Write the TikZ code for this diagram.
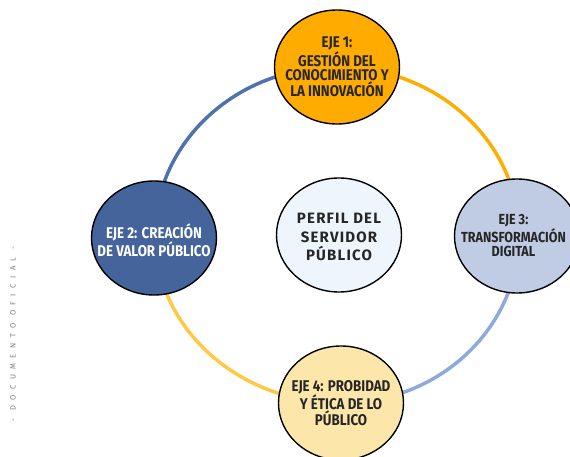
\documentclass[tikz,border=0pt]{standalone}
\usepackage{fontspec}
\setmainfont{Fira Sans}[FakeStretch=0.86]
\newfontfamily\perfilfont{Fira Sans}[LetterSpace=8]
\newfontfamily\sidefont{Fira Sans}[LetterSpace=72]
\usetikzlibrary{shapes.geometric,backgrounds}
\definecolor{ejeone}{HTML}{FFAB00}
\definecolor{ejetwo}{HTML}{44649B}
\definecolor{ejethree}{HTML}{BFCCE4}
\definecolor{ejefour}{HTML}{FCE6A9}
\definecolor{perfilfill}{HTML}{EEF5FD}
\definecolor{arcblue}{HTML}{4E72A9}
\definecolor{arcorange}{HTML}{FFAD00}
\definecolor{arclight}{HTML}{8EA9DB}
\definecolor{arcyellow}{HTML}{FFC845}
\definecolor{txt}{HTML}{262626}
\begin{document}
\begin{tikzpicture}[x=1pt,y=1pt,
  axis/.style={ellipse, draw=black, line width=1.4pt, minimum width=125pt,
    minimum height=114pt, inner sep=0pt},
  axistext/.style={inner sep=0pt, align=center, text=txt,
    font=\bfseries\fontsize{15.5}{14.6}\selectfont},
  ring/.style={line width=3.5pt}]
\useasboundingbox (0,0) rectangle (570,456);
\clip (0,0) rectangle (570,456);
\node[axis, fill=ejeone] (e1) at (337,389) {};
\node[axistext] (t1) at (e1) {EJE 1:\\GESTIÓN DEL\\CONOCIMIENTO Y\\LA INNOVACIÓN};
\node[axis, fill=ejetwo] (e2) at (154,218) {};
\node[axistext, text=white] (t2) at ([yshift=-2pt]e2.center) {EJE 2: CREACIÓN\\DE VALOR PÚBLICO};
\node[axis, fill=ejethree] (e3) at (517,220) {};
\node[axistext, font=\bfseries\fontsize{14.6}{14.6}\selectfont] (t3) at ([xshift=-3.5pt]e3.center) {EJE 3:\\TRANSFORMACIÓN\\DIGITAL};
\node[axis, fill=ejefour] (e4) at (341,53) {};
\node[axistext] (t4) at (e4) {EJE 4: PROBIDAD\\Y ÉTICA DE LO\\PÚBLICO};
\node[axis, fill=perfilfill] (perfil) at (339,221) {};
\node[axistext, font=\perfilfont\bfseries\fontsize{15}{18.5}\selectfont] (tp) at ([yshift=-2pt]perfil.center) {PERFIL DEL\\SERVIDOR\\PÚBLICO};
\node[rotate=90, text=gray, font=\sidefont\fontsize{7.6}{8}\selectfont] (side) at (13,122) {- DOCUMENTO OFICIAL -};
\begin{scope}[on background layer]
\draw[ring, arcblue] (e1.center) arc[start angle=90, end angle=180, x radius=182, y radius=168];
\draw[ring, arcorange] (e1.center) arc[start angle=90, end angle=0, x radius=182, y radius=168];
\draw[ring, arclight] (e4.center) arc[start angle=270, end angle=360, x radius=178, y radius=168];
\draw[ring, arcyellow] (e4.center) arc[start angle=270, end angle=180, x radius=186, y radius=168];
\end{scope}
\end{tikzpicture}
\end{document}
